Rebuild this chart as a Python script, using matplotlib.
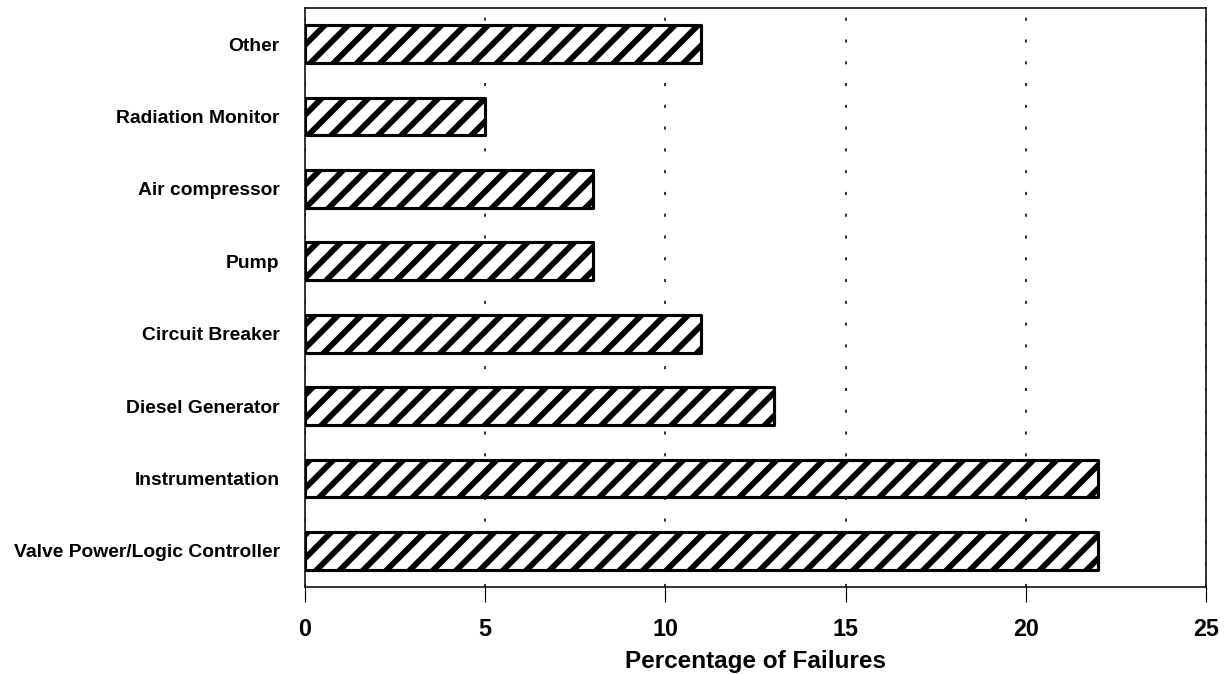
import matplotlib
matplotlib.use("Agg")
import matplotlib.pyplot as plt

categories = ["Valve Power/Logic Controller", "Instrumentation", "Diesel Generator",
              "Circuit Breaker", "Pump", "Air compressor", "Radiation Monitor", "Other"]
values = [22, 22, 13, 11, 8, 8, 5, 11]
xticks = [0, 5, 10, 15, 20, 25]
xlabel = "Percentage of Failures"

DPI = 140
plt.rcParams["hatch.linewidth"] = 3.0
plt.rcParams["hatch.color"] = "black"
plt.rcParams["font.family"] = ["Liberation Sans", "DejaVu Sans"]

fig = plt.figure(figsize=(1226 / DPI, 674 / DPI), dpi=DPI)
ax = fig.add_axes([305 / 1226, 1 - 587 / 674, (1206 - 305) / 1226, (587 - 8) / 674])

ax.barh(range(len(categories)), values, height=0.52, facecolor="white",
        edgecolor="black", linewidth=1.6, hatch="//", joinstyle="round", zorder=3)

ax.set_xlim(0, 25)
ax.set_ylim(-0.5, len(categories) - 0.5)
ax.set_xticks(xticks)
ax.set_xticklabels([str(t) for t in xticks], fontweight="bold", fontsize=12)
ax.set_yticks(range(len(categories)))
ax.set_yticklabels(categories, fontweight="bold", fontsize=9.9)
ax.tick_params(axis="y", length=0, pad=13)
ax.tick_params(axis="x", direction="out", length=7.7, width=0.6, pad=8)

ax.set_xlabel(xlabel, fontweight="bold", fontsize=12.5, labelpad=5)

ax.xaxis.grid(True, linestyle=(0, (2, 12)), color="black", linewidth=0.8)
ax.set_axisbelow(True)
for s in ax.spines.values():
    s.set_linewidth(0.8)
    s.set_color("black")

fig.savefig("out.png", dpi=DPI)
